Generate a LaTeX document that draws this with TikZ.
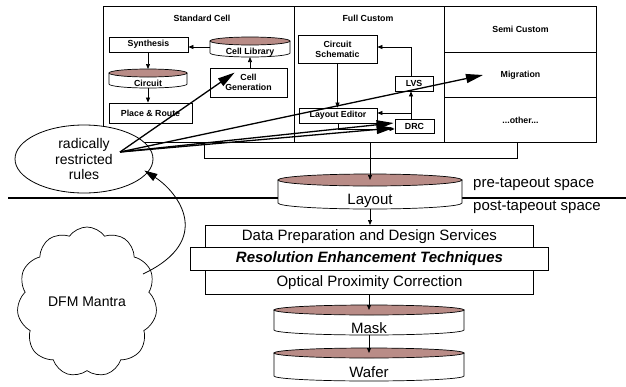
\documentclass[tikz,border=0pt]{standalone}
\usepackage{fontspec}
\setmainfont{Liberation Sans}
\usetikzlibrary{arrows.meta,shapes.geometric,shapes.symbols,calc}
\definecolor{capcol}{RGB}{185,140,135}
\newcommand\smallbold{\fontsize{8.8}{10}\selectfont\bfseries}
\newcommand\bigtext{\fontsize{15}{17}\selectfont}
% name, cx, ytop, ybot, rx, ry, baseline, text
\newcommand\cylnode[8]{%
  \path[draw, fill=white, line width=0.7pt] ({#2-#5},{-#3}) -- ({#2-#5},{-#4})
     arc[start angle=180, end angle=360, x radius=#5, y radius=#6] -- ({#2+#5},{-#3}) -- cycle;
  \path[draw, fill=capcol, line width=0.7pt] (#2,{-#3}) ellipse[x radius=#5, y radius=#6];
  \coordinate (#1-top) at (#2,{-#3});
  \coordinate (#1-rim) at (#2,{-#3+#6});
  \coordinate (#1-bot) at (#2,{-#4-#6});
  \coordinate (#1-w) at ({#2-#5},{-(#3+#4)/2});
  \node[inner sep=0pt, anchor=base] (#1) at (#2,{-#7}) {#8};
}
\begin{document}
\begin{tikzpicture}[x=1pt,y=1pt,
  sbox/.style={draw, line width=0.8pt, fill=white, font=\smallbold, align=center, inner sep=0pt},
  colbox/.style={draw, line width=1pt, anchor=north west, inner sep=0pt},
  title/.style={font=\smallbold, inner sep=0pt},
  lbox/.style={draw, line width=0.9pt, fill=white, font=\bigtext, inner sep=0pt, anchor=north west},
  arr/.style={-{Triangle[length=5pt,width=4pt]}, line width=0.7pt},
  bigarr/.style={-{Triangle[length=17pt,width=9pt]}, line width=1.3pt},
]
\useasboundingbox (0,0) rectangle (626,-386);

% top frame
\node[colbox, minimum width=191, minimum height=136] (stdcol) at (103,-6) {};
\node[colbox, minimum width=150, minimum height=136] (fccol) at (294,-6) {};
\node[colbox, minimum width=152, minimum height=46, font=\smallbold] (semi) at (444,-6) {Semi Custom};
\node[colbox, minimum width=152, minimum height=45, font=\smallbold] (migration) at (444,-52) {Migration};
\node[colbox, minimum width=152, minimum height=45, font=\smallbold] (other) at (444,-97) {...other...};
\node[title] (tstd) at (202,-18) {Standard Cell};
\node[title] (tfull) at (368,-18) {Full Custom};

% standard cell flow
\node[sbox, minimum width=79, minimum height=15] (synth) at (148.5,-44.5) {Synthesis};
\node[sbox, minimum width=83, minimum height=20] (pr) at (150.5,-113) {Place \& Route};
\node[sbox, minimum width=77, minimum height=29] (cellgen) at (248.5,-82.5) {Cell\\Generation};
\cylnode{lib}{250}{41}{53}{40}{4}{54}{\smallbold Cell Library}
\cylnode{circ}{148}{73}{84}{39}{4}{86.5}{\smallbold Circuit}
\draw[arr] (lib-w) -- (synth.east |- lib-w);
\draw[arr] (synth.south -| circ-top) -- (circ-rim);
\draw[arr] (circ-bot) -- (circ-bot |- pr.north);
\draw[arr] (cellgen.north -| lib-bot) -- (lib-bot);

% full custom flow
\node[sbox, minimum width=79, minimum height=28] (schem) at (337.5,-49) {Circuit\\Schematic};
\node[sbox, minimum width=38, minimum height=15] (lvs) at (414,-83.5) {LVS};
\node[sbox, minimum width=78, minimum height=15] (led) at (338,-115.5) {Layout Editor};
\node[sbox, minimum width=39, minimum height=14] (drc) at (414.5,-126) {DRC};
\coordinate (vx) at (411,-113);
\draw[arr] (schem.south) -- (schem.south |- led.north);
\draw[arr] (drc.north -| vx) -- (lvs.south -| vx);
\draw[arr] (lvs.north -| vx) |- ([yshift=2pt]schem.east);
\draw[arr] (vx) -- (led.east |- vx);
\draw[arr] (led.south) |- ([yshift=-3pt]drc.west);

% bracket and flow to layout
\draw[line width=1pt] (204,-142) -- (204,-158) -- (517,-158) -- (517,-142);
\coordinate (fb) at (370,-142);

% tapeout line
\draw[line width=2pt] (8,-198) -- (626,-198);
\node[font=\bigtext, inner sep=0pt, anchor=base west] (pre) at (473,-187.5) {pre-tapeout space};
\node[font=\bigtext, inner sep=0pt, anchor=base west] (post) at (473,-210) {post-tapeout space};

\cylnode{layout}{370}{180}{203}{92}{6}{204}{\bigtext Layout}
\draw[arr] (fb) -- (layout-top);

% post-tapeout boxes
\node[lbox, minimum width=328, minimum height=22] (dp) at (205,-225) {Data Preparation and Design Services};
\node[lbox, minimum width=328, minimum height=24] (opc) at (205,-270) {Optical Proximity Correction};
\node[lbox, minimum width=358, minimum height=23, font=\bigtext\bfseries\itshape] (ret) at (190,-247) {Resolution Enhancement Techniques};
\draw[arr] (layout-bot) -- (layout-bot |- dp.north);

\cylnode{mask}{369}{310}{330}{95}{5}{333}{\bigtext Mask}
\cylnode{wafer}{369}{353}{376}{95}{5}{377}{\bigtext Wafer}
\draw[arr] (mask-top |- opc.south) -- (mask-top);
\draw[arr] (mask-bot) -- (wafer-top);

% radically restricted rules
\node[draw, ellipse, fill=white, minimum width=138, minimum height=68, inner sep=0pt,
      line width=0.8pt, font=\fontsize{14}{15.5}\selectfont, align=center] (rr) at (84,-159)
      {radically\\restricted\\rules};
\coordinate (rp) at (120,-152);
\draw[bigarr] (rp) -- ($(cellgen.north west)+(25,-5)$);
\draw[bigarr] (rp) -- ($(migration.west)+(39,0)$);
\draw[bigarr] (rp) -- ($(drc.west)+(-1,3)$);
\draw[bigarr] (rp) -- ($(drc.west)+(-1,-2)$);

% DFM mantra cloud
\node[cloud, draw, cloud puffs=11, cloud puff arc=110, cloud ignores aspect,
      minimum width=140, minimum height=150, inner sep=0pt, line width=0.7pt,
      font=\fontsize{14}{16}\selectfont] (dfm) at (87,-302) {DFM Mantra};
\coordinate (cs) at ($(dfm.center)+(56,28)$);
\draw[-{Triangle[length=13pt,width=8pt]}, line width=0.8pt]
  (cs) .. controls (215,-240) and (178,-192) .. ($(rr.-10)+(-5,0)$);
\end{tikzpicture}
\end{document}
